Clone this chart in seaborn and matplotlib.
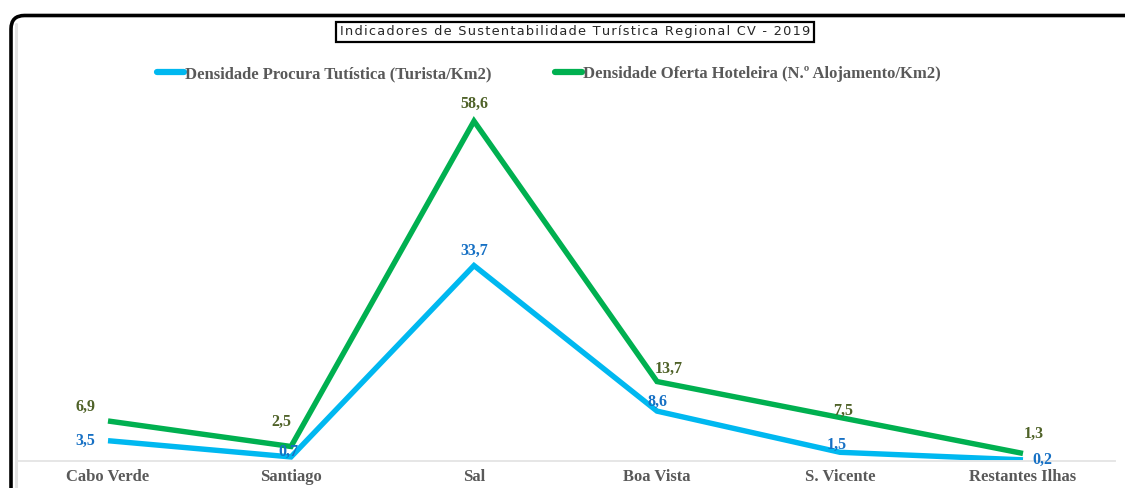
import matplotlib
matplotlib.use("Agg")
import matplotlib.pyplot as plt
from matplotlib.patches import FancyBboxPatch
from matplotlib.lines import Line2D
import pandas as pd
import seaborn as sns

# Data
regioes = ["Cabo Verde", "Santiago", "Sal", "Boa Vista", "S. Vicente", "Restantes Ilhas"]
procura = [3.5, 0.7, 33.7, 8.6, 1.5, 0.2]
oferta = [6.9, 2.5, 58.6, 13.7, 7.5, 1.3]
serie_procura = "Densidade Procura Tutística (Turista/Km2)"
serie_oferta = "Densidade Oferta Hoteleira (N.º Alojamento/Km2)"
titulo = "Indicadores de Sustentabilidade Turística Regional CV - 2019"

cor_procura = "#00B8F0"
cor_oferta = "#00B050"
cor_rot_procura = "#1670C4"
cor_rot_oferta = "#4F6228"

df = pd.DataFrame({
    "Região": regioes * 2,
    "Valor": procura + oferta,
    "Série": [serie_procura] * len(regioes) + [serie_oferta] * len(regioes),
})

sns.set_theme(style="white")
plt.rcParams["font.family"] = ["Liberation Serif", "DejaVu Serif"]


def espacado(texto, sep="\u200a"):
    """Widen the tracking of a string with hair spaces."""
    return sep.join(texto)


W, H = 1125, 488
fig = plt.figure(figsize=(W / 100, H / 100), dpi=100)
fig.patch.set_facecolor("white")

# plot area in pixels
x0, x1 = 16.5, 1114.5
y_base, y_top = 461, 113
ax = fig.add_axes([x0 / W, (H - y_base) / H, (x1 - x0) / W, (y_base - y_top) / H])
ax.set_facecolor("none")

sns.lineplot(data=df, x="Região", y="Valor", hue="Série", sort=False,
             palette={serie_procura: cor_procura, serie_oferta: cor_oferta},
             linewidth=3.9, legend=False, ax=ax, solid_joinstyle="miter",
             solid_capstyle="butt")

ax.set_xlim(-0.5, len(regioes) - 0.5)
ax.set_ylim(0, 60)
ax.set_yticks([])
ax.set_xlabel("")
ax.set_ylabel("")
for s in ["left", "right", "top"]:
    ax.spines[s].set_visible(False)
ax.spines["bottom"].set_color("#E6E6E6")
ax.spines["bottom"].set_linewidth(1.4)
ax.tick_params(axis="x", length=0, pad=6)
ax.set_xticks(range(len(regioes)))
ax.set_xticklabels(regioes, fontsize=12, fontweight="bold", color="#595959",
                   family="Liberation Serif")

# data labels (offsets in pixels)
off_oferta = [(-23, 14), (-10, 25), (0, 17), (12, 13), (3, 7), (11, 20)]
off_procura = [(-23, 0), (-3, 5), (0, 15), (0, 9), (-3, 7), (19, 0)]
for i, (v, (dx, dy)) in enumerate(zip(oferta, off_oferta)):
    ax.annotate(f"{v:.1f}".replace(".", ","), (i, v), xytext=(dx, dy),
                textcoords="offset pixels", ha="center", va="center",
                fontsize=11.5, fontweight="bold", color=cor_rot_oferta,
                annotation_clip=False)
for i, (v, (dx, dy)) in enumerate(zip(procura, off_procura)):
    ax.annotate(f"{v:.1f}".replace(".", ","), (i, v), xytext=(dx, dy),
                textcoords="offset pixels", ha="center", va="center",
                fontsize=11.5, fontweight="bold", color=cor_rot_procura,
                annotation_clip=False)

# legend
handles = [Line2D([], [], color=cor_procura, lw=4.5, solid_capstyle="round"),
           Line2D([], [], color=cor_oferta, lw=4.5, solid_capstyle="round")]
fig.legend(handles, [serie_procura, serie_oferta], loc="center",
           bbox_to_anchor=(549 / W, 1 - 74 / H), ncol=2, frameon=False,
           handlelength=1.6, handletextpad=0.1, columnspacing=3.8,
           prop={"family": "Liberation Serif", "size": 12, "weight": "bold"},
           labelcolor="#595959")

# title box
fig.text(575 / W, 1 - 32 / H, espacado(titulo), ha="center", va="center",
         fontsize=9.3, family="DejaVu Sans", color="#262626",
         bbox=dict(boxstyle="square,pad=0.3", facecolor="white",
                   edgecolor="black", linewidth=1.6))

# rounded outer frame running past the right and bottom edges
frame = FancyBboxPatch((11 / W, -40 / H), (W + 40) / W, (H - 15.5 + 40) / H,
                       boxstyle="round,pad=0,rounding_size=0.012",
                       transform=fig.transFigure, facecolor="none",
                       edgecolor="black", linewidth=2.6, clip_on=False,
                       mutation_aspect=W / H)
fig.patches.append(frame)
fig.add_artist(Line2D([16 / W, 16 / W], [0, 1 - 24 / H], transform=fig.transFigure,
                      color="#E3E3E3", lw=2.2))

fig.savefig("out.png", dpi=100, facecolor="white")
